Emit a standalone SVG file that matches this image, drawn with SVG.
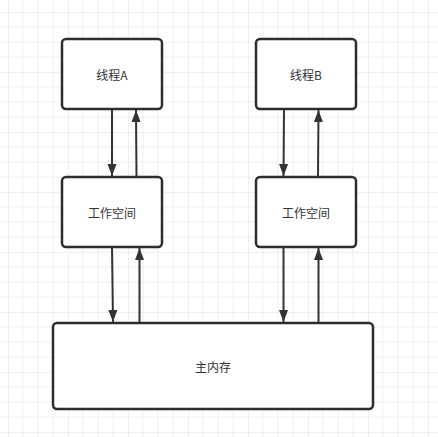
<svg xmlns="http://www.w3.org/2000/svg" width="438" height="437" viewBox="0 0 438 437">
<defs>
<pattern id="grid" x="8" y="12" width="60" height="60" patternUnits="userSpaceOnUse">
<path d="M15 0V60M30 0V60M45 0V60M0 15H60M0 30H60M0 45H60" fill="none" stroke="#efefef" stroke-width="1"/>
<path d="M0 0V60M0 0H60" fill="none" stroke="#e0e0e0" stroke-width="1"/>
</pattern>
<marker id="arr" viewBox="0 0 12 10" refX="12" refY="5" markerWidth="12" markerHeight="10" markerUnits="userSpaceOnUse" orient="auto">
<path d="M0 0.5L12 5L0 9.5Z" fill="#333"/>
</marker>
<style>
.box{fill:#fff;stroke:#2d2d2d;stroke-width:2.5}
.lbl{font-family:"Microsoft YaHei","Noto Sans CJK SC",sans-serif;font-size:12px;fill:#333;text-anchor:middle;dominant-baseline:central}
.edge{stroke:#333;stroke-width:2;fill:none;marker-end:url(#arr)}
</style>
</defs>
<rect width="438" height="437" fill="#fff"/>
<rect width="438" height="437" fill="url(#grid)"/>
<g id="threadA"><rect class="box" x="62" y="39" width="100" height="70" rx="4"/><text class="lbl" x="112" y="74">线程A</text></g>
<g id="threadB"><rect class="box" x="256" y="39" width="100" height="70" rx="4"/><text class="lbl" x="306" y="74">线程B</text></g>
<g id="workA"><rect class="box" x="62" y="177" width="100" height="70" rx="4"/><text class="lbl" x="112" y="212">工作空间</text></g>
<g id="workB"><rect class="box" x="256" y="177" width="100" height="70" rx="4"/><text class="lbl" x="306" y="212">工作空间</text></g>
<g id="mainMemory"><rect class="box" x="53" y="323" width="320" height="86" rx="4"/><text class="lbl" x="213" y="366">主内存</text></g>
<g id="connectors">
<path class="edge" d="M112 109L112 176"/>
<path class="edge" d="M136.5 177L136 110"/>
<path class="edge" d="M112 247L113 322"/>
<path class="edge" d="M139.5 323L139.5 248"/>
<path class="edge" d="M284 109L283.5 176"/>
<path class="edge" d="M318 177L318.5 110"/>
<path class="edge" d="M283.5 247L283.5 322"/>
<path class="edge" d="M318.5 323L318.5 248"/>
</g>
</svg>
